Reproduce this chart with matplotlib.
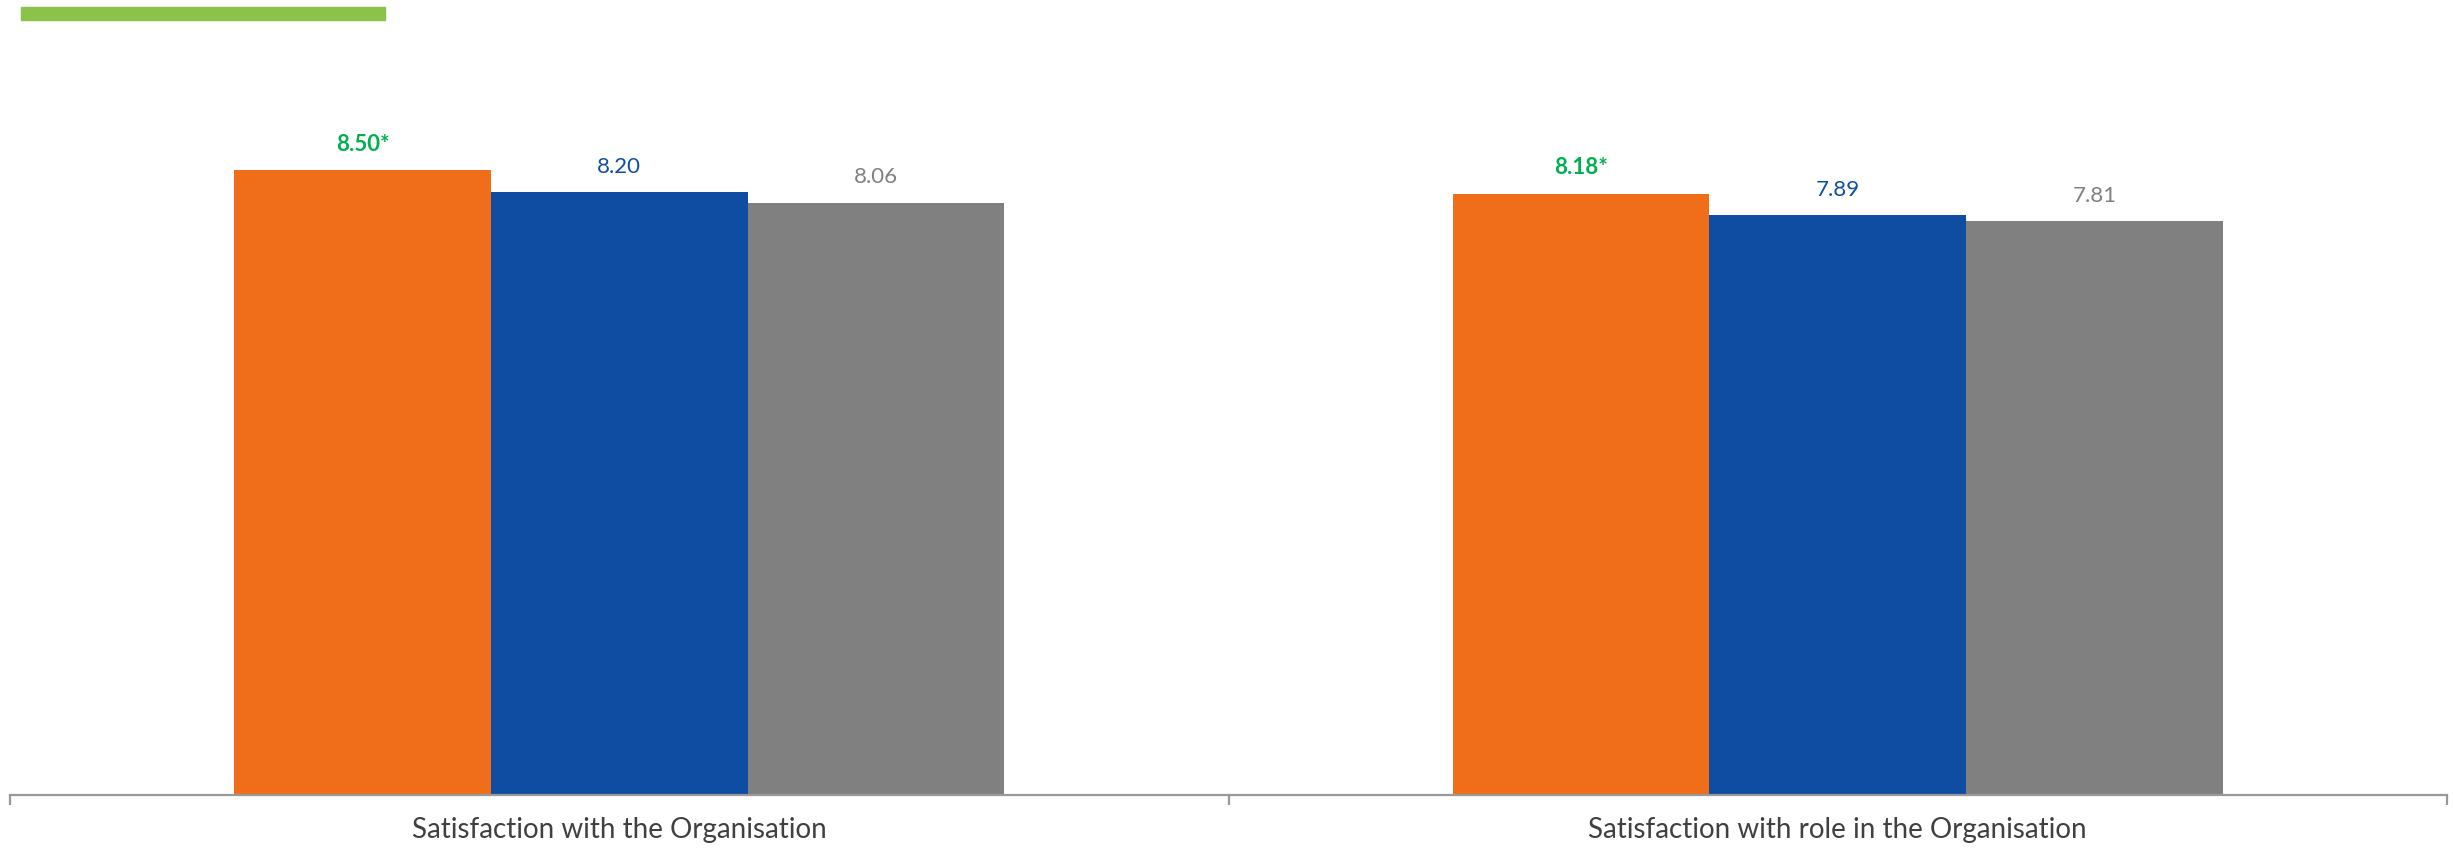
import matplotlib.pyplot as plt
import numpy as np

categories = ['Satisfaction with the Organisation', 'Satisfaction with role in the Organisation']
series_a = [8.50, 8.18]
series_b = [8.20, 7.89]
series_c = [8.06, 7.81]
labels_a = ['8.50*', '8.18*']
labels_b = ['8.20', '7.89']
labels_c = ['8.06', '7.81']

bar_colors = ['#F06D1A', '#0F4DA3', '#808080']
label_colors = ['#00B050', '#0F4DA3', '#808080']

plt.rcParams['font.family'] = ['Lato', 'DejaVu Sans']

fig = plt.figure(figsize=(24.53, 8.52), dpi=100)
# axes placed in pixel terms: x axis runs 10..2447 px, baseline at y=795 px
ax = fig.add_axes([10 / 2453, 57 / 852, 2437 / 2453, 735 / 852])

x = np.arange(len(categories))
w = 0.2107
series = [series_a, series_b, series_c]
texts = [labels_a, labels_b, labels_c]
for i, (vals, labs) in enumerate(zip(series, texts)):
    pos = x + (i - 1) * w
    ax.bar(pos, vals, width=w, color=bar_colors[i], edgecolor='none')
    for px, v, t in zip(pos, vals, labs):
        ax.annotate(t, xy=(px, v), xytext=(0, 11), textcoords='offset points',
                    ha='center', va='bottom', fontsize=16, color=label_colors[i],
                    fontweight='bold' if i == 0 else 'normal')

ax.set_xlim(-0.5, len(categories) - 0.5)
ax.set_ylim(0, 10)
ax.set_yticks([])
for s in ['top', 'right', 'left']:
    ax.spines[s].set_visible(False)
ax.spines['bottom'].set_color('#999999')
ax.spines['bottom'].set_linewidth(1.6)

# category ticks sit on the boundaries between groups
ax.set_xticks(np.arange(len(categories) + 1) - 0.5)
ax.set_xticklabels([])
ax.set_xticks(x, minor=True)
ax.set_xticklabels(categories, minor=True, fontsize=20, color='#404040')
ax.tick_params(axis='x', which='major', length=7, width=1.6, color='#999999')
ax.tick_params(axis='x', which='minor', length=0, pad=16)

# green accent bar at the top left
fig.patches.append(plt.Rectangle((21 / 2453, 1 - 20 / 852), 364 / 2453, 13 / 852,
                                 transform=fig.transFigure, color='#8BC34A'))

fig.savefig('out.png', dpi=100)
